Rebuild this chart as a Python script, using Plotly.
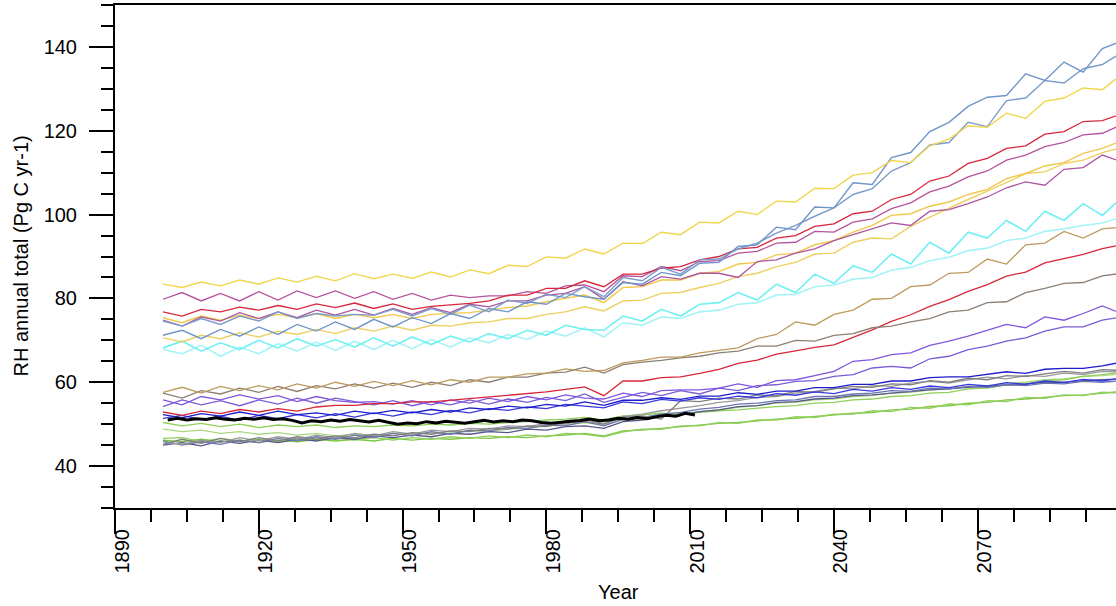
import plotly.graph_objects as go

years = list(range(1900, 2101, 4))

Y1 = [83.4,82.6,83.9,83.0,84.4,83.4,84.9,83.9,85.3,84.2,85.9,84.7,85.8,84.8,86.3,85.1,86.8,85.9,87.9,87.6,89.9,89.6,91.8,90.6,93.2,93.1,95.8,95.2,98.2,98.0,100.8,100.0,103.2,103.0,106.3,106.2,109.4,110.0,112.9,112.4,116.4,118.0,121.2,120.8,124.2,123.0,127.0,127.8,130.2,129.8,133.4]
SBa = [71.2,72.4,70.4,72.6,71.0,73.2,71.4,73.8,72.2,74.4,72.6,75.0,73.2,75.4,74.0,76.4,75.2,77.6,76.8,79.2,78.6,81.2,80.4,79.8,83.8,83.4,86.2,85.4,88.4,88.6,92.4,92.8,97.0,96.4,101.8,101.6,107.6,107.2,113.6,114.8,119.8,122.0,125.8,128.0,128.4,133.6,132.0,136.4,134.0,139.6,141.4]
SBb = [74.6,73.4,75.2,73.8,75.8,74.6,76.8,75.2,76.4,75.8,76.2,76.0,77.4,75.8,77.6,76.2,78.4,76.8,79.6,78.8,81.0,80.2,82.8,80.4,85.0,84.2,87.4,85.8,89.2,89.4,91.8,93.2,95.6,97.4,99.6,101.6,104.8,106.2,110.4,112.4,116.6,117.2,122.0,121.0,127.2,127.8,132.0,131.4,134.8,135.8,138.6]
R1 = [76.8,75.8,77.4,76.8,77.9,77.2,78.3,77.4,78.7,77.8,78.9,77.6,78.7,77.4,78.1,78.4,78.8,79.4,80.8,80.8,82.4,82.4,84.2,82.8,85.8,85.8,87.2,87.6,89.2,90.0,91.8,92.2,94.4,95.0,97.2,97.8,100.2,100.8,103.6,104.8,108.0,109.2,112.2,113.4,115.8,116.4,119.2,119.8,122.2,122.4,124.0]
M1 = [79.8,81.4,79.4,81.2,79.4,81.6,79.6,81.8,80.2,81.8,80.0,81.6,79.8,81.2,79.6,80.8,80.2,80.6,80.6,81.6,81.2,83.0,83.2,81.6,85.4,85.2,87.6,86.6,88.8,89.0,90.8,91.2,93.2,93.4,96.0,95.8,98.2,99.0,101.4,102.8,105.4,106.8,109.0,110.4,113.0,114.2,116.2,117.2,119.0,119.4,121.4]
M2 = [74.8,73.4,75.6,74.6,76.6,75.2,76.8,75.4,77.2,76.0,77.4,76.0,77.6,76.2,77.8,76.6,78.6,78.0,79.4,79.4,80.8,81.2,82.8,79.8,84.0,83.0,85.2,84.6,86.0,86.0,85.0,88.8,89.2,90.8,91.8,93.8,95.2,96.6,98.0,97.4,100.8,101.2,102.6,104.2,106.4,107.8,107.0,110.8,111.2,114.2,112.6]
G1 = [75.4,74.2,75.8,74.8,76.0,75.2,76.2,75.4,76.4,75.2,76.2,75.4,76.2,75.2,76.2,76.4,76.6,77.2,77.8,78.2,79.2,80.0,80.8,79.0,82.6,82.8,84.4,84.4,86.0,86.4,88.2,88.6,90.4,90.8,92.8,93.8,95.8,97.4,99.8,100.2,102.0,103.0,104.8,106.0,108.6,109.8,111.6,112.4,114.6,115.8,117.6]
Y2 = [70.6,69.6,71.2,70.4,71.8,70.8,72.2,71.4,72.6,71.6,73.0,72.2,73.4,72.4,73.6,73.4,74.2,74.4,75.2,75.2,76.2,76.8,78.0,77.0,79.4,79.6,81.2,81.4,82.6,83.6,85.2,86.0,87.6,88.6,90.6,90.8,93.4,94.4,94.2,97.2,99.4,101.6,103.6,105.6,107.6,109.8,110.2,112.2,113.0,114.8,116.0]
C1 = [68.2,69.8,67.4,69.4,67.8,70.0,68.2,70.4,68.6,70.2,68.4,70.6,68.6,70.8,69.0,71.0,69.6,71.6,70.4,72.4,71.2,73.6,72.6,72.4,75.8,74.6,77.4,75.8,78.6,79.0,81.4,79.6,83.4,81.4,85.8,83.6,87.8,86.2,90.6,88.2,93.4,90.8,95.8,94.4,98.6,96.0,100.8,98.6,102.6,99.8,104.0]
C2 = [67.8,66.8,68.8,66.2,68.4,66.8,69.2,67.4,69.6,67.6,69.8,67.8,70.0,68.0,70.2,68.4,70.6,69.4,71.4,70.2,72.2,71.0,73.0,70.8,74.2,73.6,75.6,75.2,76.8,77.2,78.6,79.0,80.8,81.0,82.8,83.2,84.6,85.0,86.8,87.4,89.0,89.8,91.4,92.0,93.8,94.4,96.0,96.6,97.4,98.0,99.4]
T = [57.6,58.8,57.4,59.0,58.0,59.2,58.2,59.6,58.6,60.0,59.0,60.2,59.2,60.4,59.4,60.6,60.0,61.2,61.2,62.0,62.2,63.2,62.6,62.8,64.6,65.2,66.0,66.0,67.0,67.6,68.2,70.4,71.4,74.4,73.6,76.2,77.2,79.8,80.0,82.8,83.2,86.0,86.2,89.4,88.2,92.8,93.2,96.0,94.4,96.6,97.0]
GB = [57.4,56.2,58.0,57.2,58.6,57.6,59.0,57.8,59.2,58.4,59.6,58.6,59.8,58.8,60.0,59.2,60.6,60.0,61.2,61.2,62.2,62.4,63.6,62.2,64.2,64.8,65.2,65.8,66.2,67.0,67.4,68.6,68.6,70.0,69.8,71.2,71.6,73.0,73.4,74.4,75.2,76.8,77.2,79.0,79.2,81.4,82.4,83.6,83.8,85.4,86.0]
R2 = [52.9,52.1,53.1,52.5,53.5,52.9,53.7,53.1,54.1,54.5,54.5,54.9,54.9,55.3,55.3,55.7,56.1,56.5,56.9,57.3,57.7,58.3,58.9,56.8,60.3,60.3,61.1,61.3,62.1,63.1,64.5,65.3,66.7,67.5,68.3,68.9,70.7,72.5,74.5,76.1,78.1,79.7,81.7,83.3,85.3,86.3,88.5,89.5,90.5,91.9,92.8]
P1 = [55.8,54.6,56.6,55.8,57.0,56.0,56.8,55.4,56.6,55.6,55.2,55.4,54.8,55.6,54.6,55.8,55.0,56.2,55.4,56.6,55.8,57.0,56.2,56.0,57.4,56.6,58.0,58.2,58.2,58.6,59.6,58.8,60.4,60.6,61.6,62.6,65.0,65.4,66.6,67.0,68.8,69.8,71.0,72.4,73.8,73.0,75.6,74.8,76.4,78.2,76.4]
P2 = [54.2,55.8,54.6,55.6,54.4,55.8,54.8,56.2,55.0,56.2,55.4,54.6,55.6,54.4,55.4,54.6,55.8,54.8,56.0,55.2,56.4,55.6,57.2,55.2,56.4,57.6,56.8,58.0,57.2,58.6,58.0,59.2,59.4,60.2,60.4,61.4,61.8,63.4,63.8,63.4,65.6,66.2,67.8,68.6,69.8,70.6,72.2,73.2,73.2,74.8,75.6]
B1 = [52.3,51.5,52.5,51.9,52.9,52.1,53.1,52.3,52.7,52.1,53.1,52.5,53.3,52.7,53.5,52.9,53.9,53.5,54.3,53.9,54.7,54.3,55.3,54.5,55.7,55.7,56.3,55.9,56.7,56.7,57.5,57.1,57.9,57.9,58.7,58.7,59.5,59.5,60.3,60.3,61.1,61.3,61.3,61.9,62.5,62.1,63.1,63.3,63.3,63.9,64.8]
B2 = [51.4,52.1,51.1,51.9,50.9,52.1,51.3,52.3,51.5,52.5,51.7,52.7,51.9,52.9,52.3,53.3,52.7,53.7,53.3,54.1,53.7,54.7,54.3,53.9,55.3,54.9,55.9,55.5,56.3,55.9,56.7,56.3,57.3,56.9,57.7,57.3,58.3,57.9,58.7,58.3,59.1,58.7,59.5,59.1,59.9,59.5,60.3,59.9,60.7,60.3,61.0]
GRu = [50.4,49.6,50.2,49.4,50.0,49.2,49.8,49.4,49.8,49.2,49.6,49.4,49.8,49.6,50.0,49.8,50.2,50.0,50.4,50.6,51.0,51.2,51.6,51.0,52.0,52.2,52.6,52.4,52.8,53.2,53.4,53.8,54.2,54.4,55.0,55.2,55.8,56.0,56.6,56.8,57.4,57.6,58.4,58.6,59.4,59.6,60.4,60.6,61.4,61.8,62.4]
GR2 = [48.8,48.2,48.6,47.8,48.2,47.6,48.0,47.4,47.8,47.2,47.6,47.4,47.8,47.6,48.0,47.8,48.4,48.2,48.8,49.0,49.6,49.8,50.4,49.8,51.0,51.4,52.0,52.4,53.0,53.4,54.0,54.4,55.0,55.2,55.8,56.0,56.6,56.8,57.4,57.6,58.2,58.4,59.0,59.2,59.8,60.0,60.6,60.8,61.4,61.6,62.0]
GRb1 = [46.2,45.8,46.4,45.8,46.2,45.6,46.2,45.8,46.4,46.0,46.4,46.0,46.6,46.2,46.6,46.4,46.8,46.6,47.0,46.8,47.2,47.4,47.8,47.2,48.4,48.6,49.0,49.4,49.8,50.2,50.4,50.8,51.2,51.4,51.8,52.2,52.6,52.8,53.4,53.6,54.2,54.4,55.0,55.2,55.8,56.0,56.4,56.8,57.0,57.4,57.8]
GRb2 = [46.6,46.8,45.8,46.6,46.0,46.4,45.8,46.6,46.0,46.6,46.2,46.8,46.2,46.8,46.4,47.0,46.6,47.2,46.8,47.4,47.0,47.8,47.6,47.0,48.2,48.8,48.8,49.6,49.6,50.4,50.2,51.0,51.0,51.8,51.6,52.4,52.4,53.2,53.0,54.0,53.8,54.8,54.6,55.6,55.4,56.4,56.2,57.0,56.8,57.6,57.4]
GY1 = [45.2,46.4,45.4,46.6,45.8,46.8,46.0,47.0,46.4,47.2,46.8,47.6,47.2,48.0,47.6,48.4,48.2,49.0,48.8,49.6,49.4,50.4,50.6,50.0,51.6,52.0,51.2,55.6,55.4,56.2,56.0,57.0,56.8,57.8,57.6,58.4,59.0,58.8,59.6,59.4,60.4,60.0,61.0,60.6,61.6,61.4,62.0,62.6,62.2,63.0,62.8]
GY2 = [45.0,45.6,44.8,46.0,45.4,46.2,45.6,46.4,46.0,46.8,46.4,47.2,46.8,47.4,47.0,47.8,47.6,48.2,48.0,48.8,48.6,49.4,49.6,49.0,50.6,51.0,51.8,52.2,53.0,53.4,54.2,54.4,55.2,55.4,56.0,56.2,56.8,57.0,57.4,57.8,58.2,58.4,58.8,59.0,59.4,59.6,60.0,60.0,60.4,60.6,60.8]
GY3 = [45.8,45.2,46.2,45.6,46.8,46.0,47.0,46.4,47.4,46.8,47.8,47.2,48.2,47.6,48.6,48.2,49.0,48.8,49.6,49.4,50.2,50.0,51.0,50.2,51.8,52.4,53.2,53.8,54.4,55.2,55.6,56.4,56.6,57.4,57.8,58.6,58.4,59.2,59.0,59.8,60.2,59.8,60.6,61.2,60.8,61.6,61.4,62.2,61.8,62.6,62.4]
GY4 = [46.0,45.0,45.8,45.2,46.2,45.6,46.6,46.0,47.0,46.4,47.4,46.8,47.8,47.2,48.2,47.6,48.6,48.4,49.2,49.0,49.8,49.6,50.6,49.6,51.2,51.6,52.4,52.8,53.6,54.0,54.8,55.0,55.6,55.8,56.6,56.6,57.2,57.4,58.0,57.8,58.6,58.4,59.0,58.8,59.4,59.2,59.8,59.6,60.2,60.0,60.4]

obs_years = list(range(1901, 2012, 2))
OBS = [51.0,51.4,51.0,51.3,51.1,51.5,51.2,51.0,51.4,51.2,51.5,51.1,51.3,50.9,50.3,50.8,50.6,51.0,50.7,51.1,50.8,50.5,50.9,50.4,50.0,50.3,50.1,50.6,50.3,50.7,50.4,50.2,50.6,50.9,50.5,50.8,50.6,51.0,50.8,50.4,50.2,50.5,50.7,50.9,51.2,50.8,51.0,51.4,51.2,51.6,51.3,51.8,52.1,51.9,52.6,52.2]

series = [
    ("GRb1", GRb1, "#7DC742", 1.4),
    ("GRb2", GRb2, "#92CF5F", 1.4),
    ("GR2", GR2, "#A8D880", 1.3),
    ("GRu", GRu, "#8FD05A", 1.3),
    ("GY2", GY2, "#56568A", 1.3),
    ("GY4", GY4, "#6C74B0", 1.3),
    ("GY3", GY3, "#9A9A9A", 1.3),
    ("GY1", GY1, "#7F7F7F", 1.3),
    ("B2", B2, "#3838E0", 1.3),
    ("B1", B1, "#1C1CCC", 1.3),
    ("P2", P2, "#7A5BD6", 1.3),
    ("P1", P1, "#8155E0", 1.3),
    ("R2", R2, "#D72638", 1.3),
    ("GB", GB, "#8D7F72", 1.3),
    ("T", T, "#BC9A5C", 1.3),
    ("C2", C2, "#A5F3F5", 1.6),
    ("C1", C1, "#6FF0F2", 1.6),
    ("Y2", Y2, "#EDD060", 1.4),
    ("G1", G1, "#F0C84A", 1.4),
    ("M2", M2, "#AD55A0", 1.3),
    ("M1", M1, "#B5529B", 1.3),
    ("R1", R1, "#D7263D", 1.3),
    ("SBb", SBb, "#7C9CCB", 1.4),
    ("SBa", SBa, "#6F95C9", 1.4),
    ("Y1", Y1, "#F1D54A", 1.4),
]

fig = go.Figure()
for name, vals, col, w in series:
    fig.add_trace(go.Scatter(x=years, y=vals, mode="lines", name=name,
                             line=dict(color=col, width=w), hoverinfo="skip"))
fig.add_trace(go.Scatter(x=obs_years, y=OBS, mode="lines", name="OBS",
                         line=dict(color="black", width=3), hoverinfo="skip"))

font = "Liberation Sans, Arial, Helvetica, sans-serif"
fig.update_layout(
    width=1116, height=606,
    margin=dict(l=115, r=0, t=5, b=98),
    plot_bgcolor="white", paper_bgcolor="white",
    showlegend=False, hovermode=False,
    font=dict(family=font, size=20, color="black"),
)
fig.update_xaxes(
    range=[1890, 2098.85], tick0=1890, dtick=30,
    ticks="outside", ticklen=24, tickwidth=2, tickcolor="black",
    tickangle=-90, ticklabelshift=7, ticklabelstandoff=-13,
    showline=True, linewidth=2, linecolor="black", mirror=True,
    showgrid=False, zeroline=False,
    minor=dict(tick0=1890, dtick=7.5, ticks="outside", ticklen=12,
               tickwidth=1.5, tickcolor="black", showgrid=False),
)
fig.update_yaxes(
    range=[30, 150], tick0=0, dtick=20,
    ticks="outside", ticklen=24, tickwidth=2, tickcolor="black",
    ticklabelstandoff=8,
    showline=True, linewidth=2, linecolor="black",
    showgrid=False, zeroline=False,
    minor=dict(tick0=0, dtick=5, ticks="outside", ticklen=12,
               tickwidth=1.5, tickcolor="black", showgrid=False),
)
fig.add_annotation(text="RH annual total (Pg C yr-1)", xref="paper", yref="paper",
                   x=(20 - 115) / 1001, y=0.5, xanchor="center", yanchor="middle",
                   textangle=-90, showarrow=False, font=dict(size=20))
fig.add_annotation(text="Year", xref="paper", yref="paper",
                   x=(618 - 115) / 1001, y=(508 - 592) / 503, xanchor="center",
                   yanchor="middle", showarrow=False, font=dict(size=20))

fig.write_html("out.html", config={"displayModeBar": False},
               post_script="document.body.style.margin='0';document.body.style.overflow='hidden';")
